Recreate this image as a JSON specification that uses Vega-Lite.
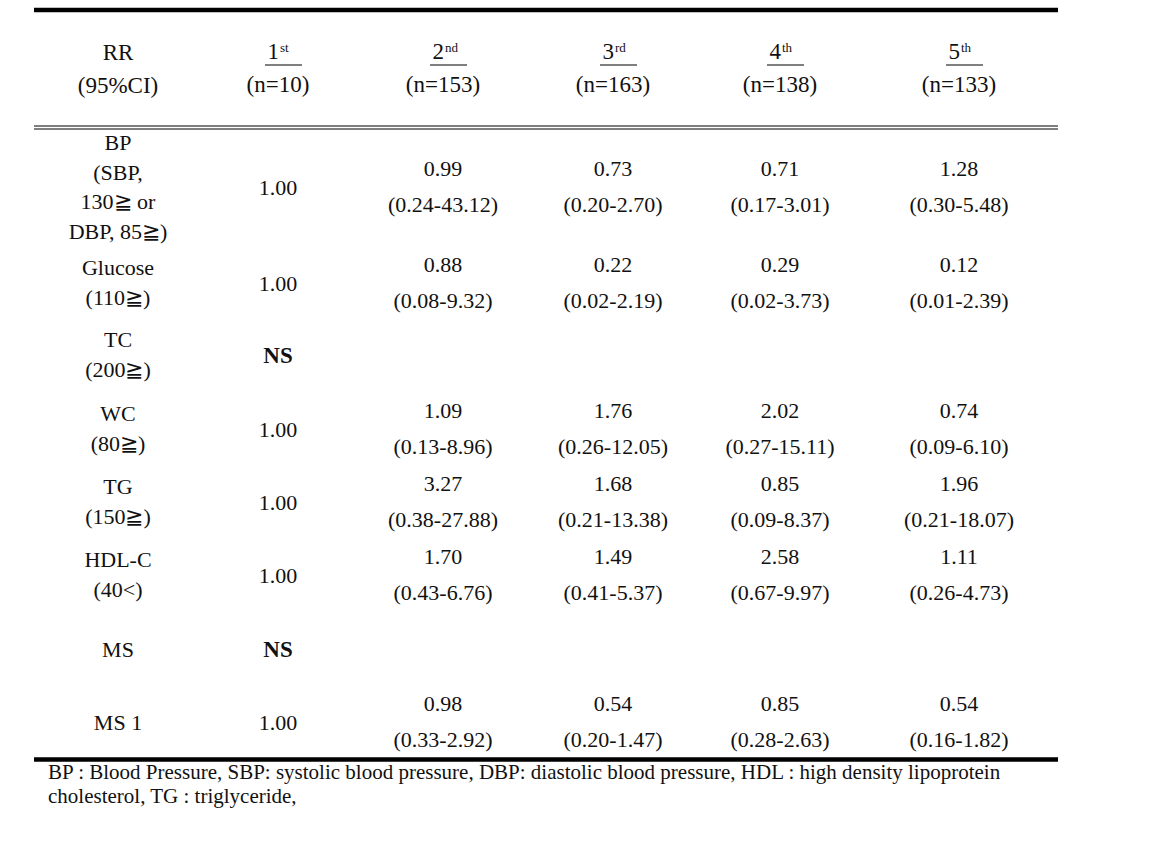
{
  "$schema": "https://vega.github.io/schema/vega-lite/v6.json",
  "width": 1024,
  "height": 862,
  "autosize": {"type": "none"},
  "padding": {"left": 34, "right": 95, "top": 0, "bottom": 0},
  "background": "white",
  "config": {
    "view": {"stroke": null},
    "text": {"font": "Liberation Serif", "fontSize": 22, "color": "#111", "baseline": "middle", "align": "center"}
  },
  "datasets": {
    "rules": [
      {"slot": 0, "kind": "thick"},
      {"slot": 2, "kind": "thin"},
      {"slot": 3, "kind": "thin"},
      {"slot": 12, "kind": "thick"}
    ],
    "corner": [{"col": 0, "slot": 1, "label": "RR\n(95%CI)"}],
    "heads": [
      {"col": 1, "slot": 1, "num": "1", "sup": "st", "n": "(n=10)"},
      {"col": 2, "slot": 1, "num": "2", "sup": "nd", "n": "(n=153)"},
      {"col": 3, "slot": 1, "num": "3", "sup": "rd", "n": "(n=163)"},
      {"col": 4, "slot": 1, "num": "4", "sup": "th", "n": "(n=138)"},
      {"col": 5, "slot": 1, "num": "5", "sup": "th", "n": "(n=133)"}
    ],
    "labels": [
      {"col": 0, "slot": 4, "label": "BP\n(SBP,\n130≧ or\nDBP, 85≧)"},
      {"col": 0, "slot": 5, "label": "Glucose\n(110≧)"},
      {"col": 0, "slot": 6, "label": "TC\n(200≧)"},
      {"col": 0, "slot": 7, "label": "WC\n(80≧)"},
      {"col": 0, "slot": 8, "label": "TG\n(150≧)"},
      {"col": 0, "slot": 9, "label": "HDL-C\n(40<)"},
      {"col": 0, "slot": 10, "label": "MS"},
      {"col": 0, "slot": 11, "label": "MS 1"}
    ],
    "cells": [
      {"col": 1, "slot": 4, "rr": "1.00", "ci": ""},
      {"col": 1, "slot": 5, "rr": "1.00", "ci": ""},
      {"col": 1, "slot": 6, "rr": "NS", "ci": ""},
      {"col": 1, "slot": 7, "rr": "1.00", "ci": ""},
      {"col": 1, "slot": 8, "rr": "1.00", "ci": ""},
      {"col": 1, "slot": 9, "rr": "1.00", "ci": ""},
      {"col": 1, "slot": 10, "rr": "NS", "ci": ""},
      {"col": 1, "slot": 11, "rr": "1.00", "ci": ""},
      {"col": 2, "slot": 4, "rr": "0.99", "ci": "(0.24-43.12)"},
      {"col": 3, "slot": 4, "rr": "0.73", "ci": "(0.20-2.70)"},
      {"col": 4, "slot": 4, "rr": "0.71", "ci": "(0.17-3.01)"},
      {"col": 5, "slot": 4, "rr": "1.28", "ci": "(0.30-5.48)"},
      {"col": 2, "slot": 5, "rr": "0.88", "ci": "(0.08-9.32)"},
      {"col": 3, "slot": 5, "rr": "0.22", "ci": "(0.02-2.19)"},
      {"col": 4, "slot": 5, "rr": "0.29", "ci": "(0.02-3.73)"},
      {"col": 5, "slot": 5, "rr": "0.12", "ci": "(0.01-2.39)"},
      {"col": 2, "slot": 7, "rr": "1.09", "ci": "(0.13-8.96)"},
      {"col": 3, "slot": 7, "rr": "1.76", "ci": "(0.26-12.05)"},
      {"col": 4, "slot": 7, "rr": "2.02", "ci": "(0.27-15.11)"},
      {"col": 5, "slot": 7, "rr": "0.74", "ci": "(0.09-6.10)"},
      {"col": 2, "slot": 8, "rr": "3.27", "ci": "(0.38-27.88)"},
      {"col": 3, "slot": 8, "rr": "1.68", "ci": "(0.21-13.38)"},
      {"col": 4, "slot": 8, "rr": "0.85", "ci": "(0.09-8.37)"},
      {"col": 5, "slot": 8, "rr": "1.96", "ci": "(0.21-18.07)"},
      {"col": 2, "slot": 9, "rr": "1.70", "ci": "(0.43-6.76)"},
      {"col": 3, "slot": 9, "rr": "1.49", "ci": "(0.41-5.37)"},
      {"col": 4, "slot": 9, "rr": "2.58", "ci": "(0.67-9.97)"},
      {"col": 5, "slot": 9, "rr": "1.11", "ci": "(0.26-4.73)"},
      {"col": 2, "slot": 11, "rr": "0.98", "ci": "(0.33-2.92)"},
      {"col": 3, "slot": 11, "rr": "0.54", "ci": "(0.20-1.47)"},
      {"col": 4, "slot": 11, "rr": "0.85", "ci": "(0.28-2.63)"},
      {"col": 5, "slot": 11, "rr": "0.54", "ci": "(0.16-1.82)"}
    ],
    "notes": [
      {"col": -1, "slot": 13, "note": "BP : Blood Pressure, SBP: systolic blood pressure, DBP: diastolic blood pressure, HDL : high density lipoprotein"},
      {"col": -1, "slot": 14, "note": "cholesterol, TG : triglyceride,"}
    ]
  },
  "layer": [
    {
      "data": {"name": "rules"},
      "transform": [{"filter": "datum.kind === 'thick'"}],
      "mark": {"type": "rule", "strokeWidth": 4.5, "color": "#000"},
      "encoding": {
        "y": {"field": "slot", "type": "quantitative", "axis": null,
              "scale": {"type": "linear", "domain": [0,1,2,3,4,5,6,7,8,9,10,11,12,13,14], "range": [10,67,126,129,188,284,356,430,503,576,650,723,759.5,773,797], "nice": false, "zero": false}}
      }
    },
    {
      "data": {"name": "rules"},
      "transform": [{"filter": "datum.kind === 'thin'"}],
      "mark": {"type": "rule", "strokeWidth": 1.2, "color": "#000"},
      "encoding": {
        "y": {"field": "slot", "type": "quantitative", "axis": null}
      }
    },
    {
      "data": {"name": "corner"},
      "mark": {"type": "text", "lineBreak": "\n", "lineHeight": 33, "dy": -14.5, "fontSize": 23},
      "encoding": {
        "x": {"field": "col", "type": "quantitative", "axis": null,
              "scale": {"type": "linear", "domain": [-1,0,1,2,3,4,5], "range": [14,84,244,409,579,746,925], "nice": false, "zero": false}},
        "y": {"field": "slot", "type": "quantitative", "axis": null},
        "text": {"field": "label", "type": "nominal"}
      }
    },
    {
      "data": {"name": "heads"},
      "mark": {"type": "text", "align": "right", "dx": 1, "dy": -15, "fontSize": 23},
      "encoding": {
        "x": {"field": "col", "type": "quantitative", "axis": null},
        "y": {"field": "slot", "type": "quantitative", "axis": null},
        "text": {"field": "num", "type": "nominal"}
      }
    },
    {
      "data": {"name": "heads"},
      "mark": {"type": "text", "align": "left", "dx": 2, "dy": -19, "fontSize": 13},
      "encoding": {
        "x": {"field": "col", "type": "quantitative", "axis": null},
        "y": {"field": "slot", "type": "quantitative", "axis": null},
        "text": {"field": "sup", "type": "nominal"}
      }
    },
    {
      "data": {"name": "heads"},
      "mark": {"type": "text", "dy": 18, "fontSize": 23},
      "encoding": {
        "x": {"field": "col", "type": "quantitative", "axis": null},
        "y": {"field": "slot", "type": "quantitative", "axis": null},
        "text": {"field": "n", "type": "nominal"}
      }
    },
    {
      "data": {"name": "heads"},
      "mark": {"type": "tick", "orient": "horizontal", "size": 37, "thickness": 1.2, "color": "#000", "opacity": 1, "xOffset": 5.5, "yOffset": -2},
      "encoding": {
        "x": {"field": "col", "type": "quantitative", "axis": null},
        "y": {"field": "slot", "type": "quantitative", "axis": null}
      }
    },
    {
      "data": {"name": "labels"},
      "transform": [{"filter": "split(datum.label, '\\n').length === 4"}],
      "mark": {"type": "text", "lineBreak": "\n", "lineHeight": 29.7, "dy": -45},
      "encoding": {
        "x": {"field": "col", "type": "quantitative", "axis": null},
        "y": {"field": "slot", "type": "quantitative", "axis": null},
        "text": {"field": "label", "type": "nominal"}
      }
    },
    {
      "data": {"name": "labels"},
      "transform": [{"filter": "split(datum.label, '\\n').length === 2"}],
      "mark": {"type": "text", "lineBreak": "\n", "lineHeight": 29.5, "dy": -16},
      "encoding": {
        "x": {"field": "col", "type": "quantitative", "axis": null},
        "y": {"field": "slot", "type": "quantitative", "axis": null},
        "text": {"field": "label", "type": "nominal"}
      }
    },
    {
      "data": {"name": "labels"},
      "transform": [{"filter": "split(datum.label, '\\n').length === 1"}],
      "mark": {"type": "text"},
      "encoding": {
        "x": {"field": "col", "type": "quantitative", "axis": null},
        "y": {"field": "slot", "type": "quantitative", "axis": null},
        "text": {"field": "label", "type": "nominal"}
      }
    },
    {
      "data": {"name": "cells"},
      "transform": [{"filter": "datum.col === 1 && datum.rr !== 'NS'"}],
      "mark": {"type": "text"},
      "encoding": {
        "x": {"field": "col", "type": "quantitative", "axis": null},
        "y": {"field": "slot", "type": "quantitative", "axis": null},
        "text": {"field": "rr", "type": "nominal"}
      }
    },
    {
      "data": {"name": "cells"},
      "transform": [{"filter": "datum.rr === 'NS'"}],
      "mark": {"type": "text", "fontWeight": "bold", "fontSize": 23},
      "encoding": {
        "x": {"field": "col", "type": "quantitative", "axis": null},
        "y": {"field": "slot", "type": "quantitative", "axis": null},
        "text": {"field": "rr", "type": "nominal"}
      }
    },
    {
      "data": {"name": "cells"},
      "transform": [{"filter": "datum.col > 1"}],
      "mark": {"type": "text", "dy": -19},
      "encoding": {
        "x": {"field": "col", "type": "quantitative", "axis": null},
        "y": {"field": "slot", "type": "quantitative", "axis": null},
        "text": {"field": "rr", "type": "nominal"}
      }
    },
    {
      "data": {"name": "cells"},
      "transform": [{"filter": "datum.col > 1"}],
      "mark": {"type": "text", "dy": 17},
      "encoding": {
        "x": {"field": "col", "type": "quantitative", "axis": null},
        "y": {"field": "slot", "type": "quantitative", "axis": null},
        "text": {"field": "ci", "type": "nominal"}
      }
    },
    {
      "data": {"name": "notes"},
      "mark": {"type": "text", "align": "left", "fontSize": 21},
      "encoding": {
        "x": {"field": "col", "type": "quantitative", "axis": null},
        "y": {"field": "slot", "type": "quantitative", "axis": null},
        "text": {"field": "note", "type": "nominal"}
      }
    }
  ]
}
